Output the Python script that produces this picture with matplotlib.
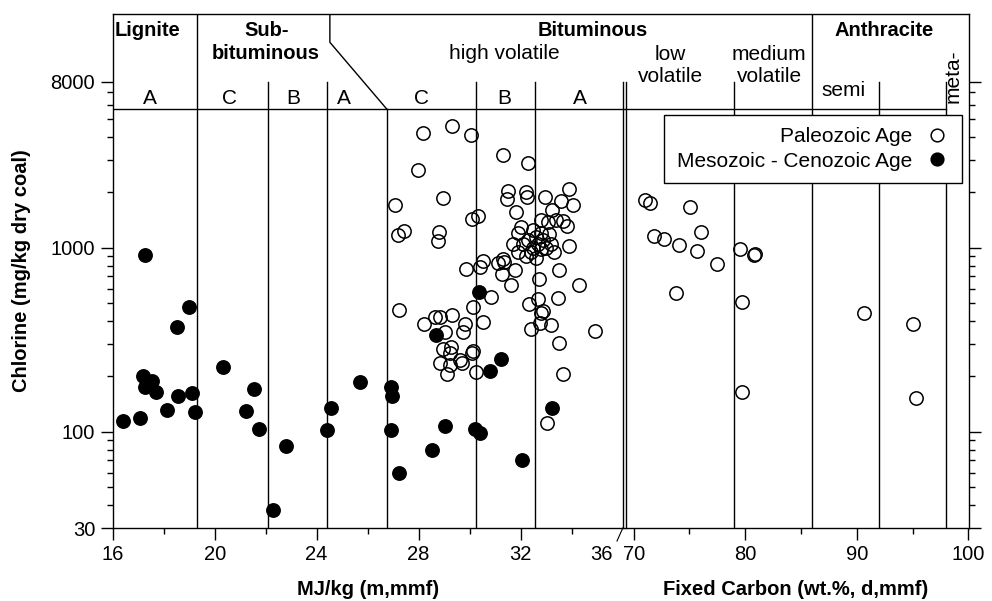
import matplotlib
matplotlib.use('Agg')
import matplotlib.pyplot as plt
import matplotlib.transforms as mtrans
from matplotlib.lines import Line2D
from matplotlib.ticker import NullFormatter
import numpy as np

plt.rcParams['font.family'] = ['Liberation Sans', 'DejaVu Sans']
plt.rcParams['font.size'] = 14.5

# ---------------- data ----------------
# Mesozoic-Cenozoic (filled), x = MJ/kg
meso_mj = [17.27, 18.98, 18.53, 20.34, 17.18, 17.53, 17.27, 17.69, 18.56, 19.12,
           18.13, 19.23, 16.39, 17.07, 21.55, 21.24, 21.73, 22.78, 22.27, 25.70,
           24.56, 24.42, 26.91, 26.94, 26.91, 27.24, 28.68, 31.25, 30.80, 29.03,
           30.21, 30.40, 28.53, 32.04, 33.22, 30.38]
meso_cl = [912, 478, 371, 224, 201, 189, 176, 164, 156, 162,
           132, 128, 115, 119, 170, 130, 104, 84, 37.5, 187,
           135, 102, 176, 157, 102, 60, 335, 247, 214, 107,
           103, 99, 79.5, 70, 135, 577]

# Paleozoic (open), x = MJ/kg
paleo_mj = [28.16, 29.33, 30.04, 31.31, 32.30, 27.96, 27.07, 28.96, 27.20, 27.42,
            28.81, 28.77, 30.08, 30.35, 31.49, 31.45, 31.82, 32.20, 32.26, 29.85,
            30.40, 30.51, 31.12, 31.32, 31.35, 31.28, 31.78, 31.61, 30.86, 30.14,
            27.23, 28.22, 28.64, 28.84, 29.33, 30.53, 29.82, 29.73, 29.03, 28.96,
            29.27, 29.23, 28.84, 29.25, 29.62, 29.69, 29.10, 30.08, 30.12, 30.25,
            32.34, 32.40, 33.91, 34.06, 33.57, 32.95, 33.25, 32.82, 33.08, 33.38,
            33.67, 33.83, 33.91, 33.51, 32.73, 34.29, 33.47, 32.69, 32.82, 32.89,
            33.19, 32.76, 34.91, 33.51, 33.67, 33.02,
            31.9, 32.1, 32.3, 32.5, 32.6, 32.7, 32.8, 32.9, 33.0, 33.1,
            33.2, 32.4, 32.2, 32.6, 33.3, 31.7, 31.9, 32.0, 32.5, 32.8]
paleo_cl = [4217, 4585, 4097, 3190, 2897, 2644, 1706, 1856, 1172, 1237,
            1222, 1087, 1426, 1493, 2042, 1833, 1570, 2015, 1890, 763,
            788, 847, 829, 865, 839, 717, 757, 627, 542, 474,
            458, 385, 419, 422, 431, 396, 385, 347, 350, 281,
            290, 267, 235, 230, 245, 235, 206, 269, 276, 212,
            492, 364, 2084, 1706, 1794, 1887, 1603, 1414, 1384, 1414,
            1402, 1312, 1025, 757, 676, 625, 531, 525, 440, 453,
            379, 388, 353, 305, 206, 111,
            1200, 1050, 1100, 1000, 1150, 1050, 980, 1100, 1000, 1180,
            1050, 950, 900, 880, 950, 1050, 950, 1300, 1250, 1200]

# Paleozoic (open), x = Fixed carbon
paleo_fc = [71.05, 71.50, 75.07, 71.79, 72.69, 74.09, 76.06, 75.68, 77.47, 73.80,
            79.55, 80.90, 80.75, 79.71, 79.71, 90.60, 95.02, 95.29]
paleo_fc_cl = [1816, 1756, 1671, 1158, 1111, 1030, 1222, 963, 812, 569,
               980, 925, 910, 509, 164, 443, 384, 153]

mj_bounds = [19.31, 22.10, 24.42, 26.75, 30.24, 32.56]
fc_bounds = [79, 86, 92, 98]

# ---------------- layout ----------------
W, H = 992, 601
L, R, B, T = 112.7, 969.0, 528.0, 14.0
SPLIT = 622.5
YMIN, YMAX = 30, 18620
FS = 14.5


def rect(x0, x1):
    return [x0 / W, (H - B) / H, (x1 - x0) / W, (B - T) / H]


def fy(py):
    return (B - py) / (B - T)


fig = plt.figure(figsize=(W / 100, H / 100), dpi=100)
axf = fig.add_axes(rect(L, R))
axf.set_xticks([]); axf.set_yticks([])
for s in axf.spines.values():
    s.set_linewidth(1.0)

ax1 = fig.add_axes(rect(L, SPLIT))
ax2 = fig.add_axes(rect(SPLIT, R), sharey=ax1)
for ax in (ax1, ax2):
    ax.patch.set_alpha(0)
    for s in ax.spines.values():
        s.set_visible(False)
    ax.set_yscale('log')

ax1.set_ylim(YMIN, YMAX)
ax1.set_xlim(16, 36)
ax2.set_xlim(69, 100.05)

ax1.set_yticks([30, 100, 1000, 8000])
ax1.set_yticklabels(['30', '100', '1000', '8000'])
minors = [40, 50, 60, 70, 80, 90, 200, 300, 400, 500, 600, 700, 800, 900,
          2000, 3000, 4000, 5000, 6000, 7000]
ax1.set_yticks(minors, minor=True)
ax1.yaxis.set_minor_formatter(NullFormatter())

ax1.set_xticks([16, 20, 24, 28, 32])
ax1.set_xticks([18, 22, 26, 30, 34], minor=True)
ax2.set_xticks([70, 80, 90, 100])
ax2.set_xticks([75, 85, 95], minor=True)

for ax in (ax1, ax2):
    ax.tick_params(which='major', direction='out', length=8.6, width=1.0,
                   labelsize=FS, pad=4)
    ax.tick_params(which='minor', direction='out', length=4, width=1.0)
ax2.tick_params(axis='y', which='both', left=False, labelleft=False,
                right=True, labelright=False)

# '36' label placed left of the axis break
ax1.annotate('36', xy=(36, 0), xycoords=('data', 'axes fraction'),
             xytext=(-15, -12.6), textcoords='offset points', ha='center',
             va='top', fontsize=FS)
fig.add_artist(Line2D([(SPLIT + 0.3) / W, (SPLIT - 5.5) / W],
                      [(H - B) / H, (H - B - 13) / H], color='black', lw=0.8))

ax1.set_xlabel('MJ/kg (m,mmf)', fontsize=FS, weight='bold', labelpad=11)
ax2.set_xlabel('Fixed Carbon (wt.%, d,mmf)', fontsize=FS, weight='bold',
               labelpad=11)
ax1.set_ylabel('Chlorine (mg/kg dry coal)', fontsize=FS, weight='bold',
               labelpad=14)

# ---------------- header / rank structure ----------------
lk = dict(color='black', lw=1.0, zorder=1)
t1 = ax1.get_xaxis_transform()
t2 = ax2.get_xaxis_transform()
f8000 = fy(81.6)
fhead = fy(109)

# header horizontal line
axf.plot([0, (945.7 - L) / (R - L)], [fhead, fhead], transform=axf.transAxes, **lk)

# MJ boundaries
ax1.plot([mj_bounds[0]] * 2, [0, 1], transform=t1, **lk)
for xb in (mj_bounds[1], mj_bounds[2], mj_bounds[4], mj_bounds[5]):
    ax1.plot([xb, xb], [0, f8000], transform=t1, **lk)
ax1.plot([mj_bounds[3]] * 2, [0, fhead], transform=t1, **lk)
ax1.plot([24.52, 24.52, mj_bounds[3]], [1, fy(42.3), fhead], transform=t1, **lk)
# axis break double line
ax2.plot([69, 69], [0, f8000], transform=t2, clip_on=False, **lk)
ax2.plot([69.33, 69.33], [0, f8000], transform=t2, clip_on=False, **lk)
# FC boundaries
ax2.plot([fc_bounds[1]] * 2, [0, 1], transform=t2, **lk)
for xb in (fc_bounds[0], fc_bounds[2], fc_bounds[3]):
    ax2.plot([xb, xb], [0, f8000], transform=t2, **lk)

bold = dict(weight='bold', fontsize=FS, va='center')
reg = dict(fontsize=15, va='center')
ax1.text(16.09, fy(31), 'Lignite', ha='left', transform=t1, **bold)
ax1.text(22.02, fy(31), 'Sub-', ha='center', transform=t1, **bold)
ax1.text(22.02, fy(53.3), 'bituminous', ha='center', transform=t1, **bold)
ax1.text(34.84, fy(31), 'Bituminous', ha='center', transform=t1, **bold)
ax1.text(31.38, fy(53.3), 'high volatile', ha='center', transform=t1, **reg)
ax2.text(73.26, fy(55), 'low', ha='center', transform=t2, **reg)
ax2.text(73.26, fy(76.7), 'volatile', ha='center', transform=t2, **reg)
ax2.text(82.13, fy(55), 'medium', ha='center', transform=t2, **reg)
ax2.text(82.13, fy(76.7), 'volatile', ha='center', transform=t2, **reg)
ax2.text(92.41, fy(31), 'Anthracite', ha='center', transform=t2, **bold)
ax2.text(88.76, fy(90), 'semi', ha='center', transform=t2, **reg)
ax2.text(98.64, fy(76.7), 'meta-', ha='center', rotation=90, transform=t2, **reg)
for xl, lab in zip([17.46, 20.57, 23.08, 25.07, 28.12, 31.38, 34.33],
                   ['A', 'C', 'B', 'A', 'C', 'B', 'A']):
    ax1.text(xl, fy(98.3), lab, ha='center', transform=t1, **reg)

# ---------------- data ----------------
mk = dict(marker='o', ms=9.6, ls='none', mew=1.1, zorder=3)
ax1.plot(paleo_mj, paleo_cl, mfc='none', mec='black', **mk)
ax1.plot(meso_mj, meso_cl, mfc='black', mec='black', **mk)
hp, = ax2.plot(paleo_fc, paleo_fc_cl, mfc='none', mec='black',
               label='Paleozoic Age', **mk)
hm, = ax2.plot([], [], mfc='black', mec='black', label='Mesozoic - Cenozoic Age', **mk)

leg = ax2.legend(handles=[hp, hm], loc='upper right',
                 bbox_to_anchor=((962 - SPLIT) / (R - SPLIT), fy(115)),
                 borderaxespad=0, markerfirst=False, frameon=True,
                 fancybox=False, edgecolor='black', framealpha=1,
                 handlelength=1.2, handletextpad=0.6, borderpad=0.6,
                 labelspacing=0.25, fontsize=15, markerscale=0.95)
leg.get_frame().set_linewidth(1.0)
for col in leg._legend_handle_box.get_children():
    col.align = 'right'
leg.set_zorder(5)

fig.savefig('out.png', dpi=100)
